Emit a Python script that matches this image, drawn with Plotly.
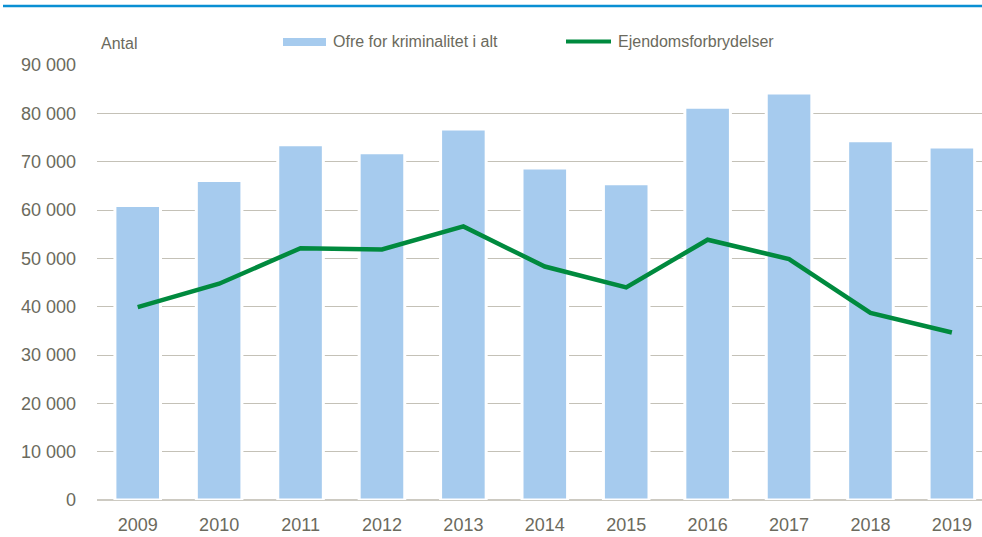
import plotly.graph_objects as go

years = ["2009", "2010", "2011", "2012", "2013", "2014", "2015", "2016", "2017", "2018", "2019"]
ofre_i_alt = [60950, 66100, 73500, 71850, 76750, 68700, 65450, 81250, 84200, 74350, 73050]
ejendomsforbrydelser = [39900, 44750, 52100, 51850, 56600, 48300, 44000, 53850, 49850, 38700, 34650]
y_ticks = [0, 10000, 20000, 30000, 40000, 50000, 60000, 70000, 80000, 90000]
y_tick_labels = ["0", "10 000", "20 000", "30 000", "40 000", "50 000", "60 000", "70 000", "80 000", "90 000"]

FONT = "Liberation Sans Narrow, Arial Narrow, Liberation Sans, Arial, sans-serif"
TXT = "#6b6a5d"
BAR = "#a6cbee"
GREEN = "#008a3e"

fig = go.Figure()
fig.add_trace(go.Bar(
    x=years, y=ofre_i_alt, name="Ofre for kriminalitet i alt",
    marker=dict(color=BAR, line=dict(color="white", width=3)),
    showlegend=False,
))
fig.add_trace(go.Scatter(
    x=years, y=ejendomsforbrydelser, name="Ejendomsforbrydelser",
    mode="lines", line=dict(color=GREEN, width=4.5),
    showlegend=False,
))

L, R, T, B = 97, 982, 65, 500
W, H = R - L, B - T

def px(x):
    return (x - L) / W

def py(y):
    return (B - y) / H

shapes = [
    dict(type="line", xref="paper", yref="paper", x0=px(3), x1=px(982), y0=py(6), y1=py(6),
         line=dict(color="#0a8fd3", width=2.6)),
    dict(type="rect", xref="paper", yref="paper", x0=px(283), x1=px(326), y0=py(46), y1=py(38),
         line=dict(width=0), fillcolor=BAR),
    dict(type="line", xref="paper", yref="paper", x0=px(566), x1=px(611), y0=py(41.5), y1=py(41.5),
         line=dict(color=GREEN, width=4)),
]
LEG = 16
annotations = [
    dict(text="Antal", xref="paper", yref="paper", x=px(99), y=py(44), xanchor="left", yanchor="middle",
         showarrow=False, font=dict(family=FONT, size=16, color=TXT)),
    dict(text="Ofre for kriminalitet i alt", xref="paper", yref="paper", x=px(331), y=py(41.5),
         xanchor="left", yanchor="middle", showarrow=False, font=dict(family=FONT, size=LEG, color=TXT)),
    dict(text="Ejendomsforbrydelser", xref="paper", yref="paper", x=px(616), y=py(41.5),
         xanchor="left", yanchor="middle", showarrow=False, font=dict(family=FONT, size=LEG, color=TXT)),
]

TICK = 18
fig.update_layout(
    width=982, height=537,
    margin=dict(l=L, r=0, t=T, b=537 - B),
    paper_bgcolor="white", plot_bgcolor="white",
    bargap=0.44,
    font=dict(family=FONT, size=TICK, color=TXT),
    shapes=shapes, annotations=annotations,
    xaxis=dict(range=[-0.5, 10.37], showgrid=False, showline=False, zeroline=False,
               ticks="", ticklabelstandoff=12, tickfont=dict(family=FONT, size=TICK, color=TXT),
               fixedrange=True),
    yaxis=dict(range=[0, 90000], tickvals=y_ticks, ticktext=y_tick_labels,
               showgrid=True, gridcolor="#c4c1b7", gridwidth=1.4,
               zeroline=True, zerolinecolor="#cdcac2", zerolinewidth=2,
               showline=False, ticks="", ticklabelstandoff=20,
               tickfont=dict(family=FONT, size=TICK, color=TXT), fixedrange=True),
)

fig.write_html(
    "out.html",
    config={"displayModeBar": False},
    post_script="document.body.style.margin='0px';document.body.style.overflow='hidden';",
)
